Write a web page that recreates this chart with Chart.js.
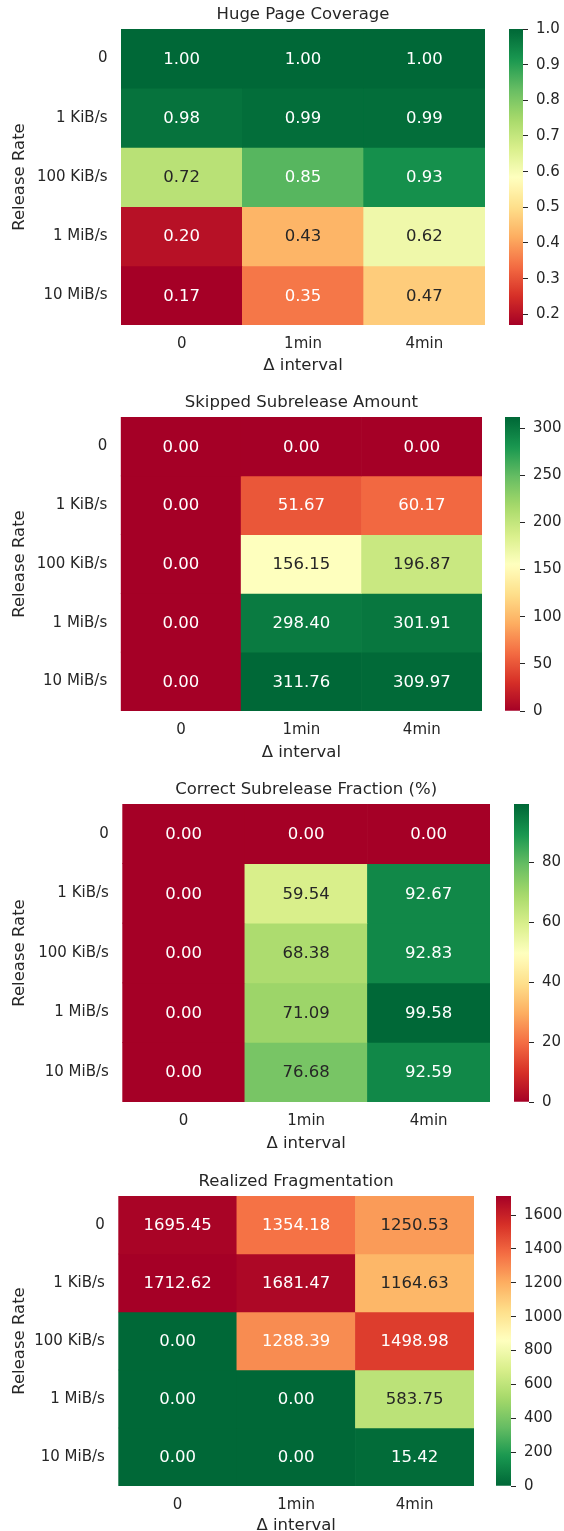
<!DOCTYPE html>
<html>
<head>
<meta charset="utf-8">
<script src="https://cdn.jsdelivr.net/npm/chart.js@4.4.1/dist/chart.umd.min.js"></script>
<style>
  html, body { margin: 0; padding: 0; background: #ffffff; }
  #page { position: relative; width: 564px; height: 1531px; overflow: hidden; background: #ffffff; }
  #page canvas { position: absolute; }
</style>
</head>
<body>
<div id="page"></div>
<script>
// Column and row categories shared by every heatmap
const intervals = ['0', '1min', '4min'];
const releaseRates = ['0', '1 KiB/s', '100 KiB/s', '1 MiB/s', '10 MiB/s'];

// One row per release rate, one column per Δ interval
const hugePageCoverage = [
  [1.00, 1.00, 1.00],
  [0.98, 0.99, 0.99],
  [0.72, 0.85, 0.93],
  [0.20, 0.43, 0.62],
  [0.17, 0.35, 0.47]
];
const skippedSubreleaseAmount = [
  [0.00, 0.00, 0.00],
  [0.00, 51.67, 60.17],
  [0.00, 156.15, 196.87],
  [0.00, 298.40, 301.91],
  [0.00, 311.76, 309.97]
];
const correctSubreleaseFraction = [
  [0.00, 0.00, 0.00],
  [0.00, 59.54, 92.67],
  [0.00, 68.38, 92.83],
  [0.00, 71.09, 99.58],
  [0.00, 76.68, 92.59]
];
const realizedFragmentation = [
  [1695.45, 1354.18, 1250.53],
  [1712.62, 1681.47, 1164.63],
  [0.00, 1288.39, 1498.98],
  [0.00, 0.00, 583.75],
  [0.00, 0.00, 15.42]
];

// Colorbar tick values
const coverageTicks = [0.2, 0.3, 0.4, 0.5, 0.6, 0.7, 0.8, 0.9, 1.0];
const skippedTicks = [0, 50, 100, 150, 200, 250, 300];
const correctTicks = [0, 20, 40, 60, 80];
const fragmentationTicks = [0, 200, 400, 600, 800, 1000, 1200, 1400, 1600];

// RdYlGn control colours (red -> yellow -> green)
const RDYLGN = [
  [165, 0, 38], [215, 48, 39], [244, 109, 67], [253, 174, 97], [254, 224, 139],
  [255, 255, 191], [217, 239, 139], [166, 217, 106], [102, 189, 99], [26, 152, 80], [0, 104, 55]
];

const FONT = 'DejaVu Sans';
const TEXT = '#262626';
const LABEL_SIZE = 16.5;
const TICK_SIZE = 15;

function cmapRGB(t, reversed) {
  t = Math.max(0, Math.min(1, t));
  if (reversed) t = 1 - t;
  // 256-entry lookup like a quantized colormap
  const idx = Math.min(255, Math.floor(t * 256));
  const s = idx / 255 * (RDYLGN.length - 1);
  const i = Math.min(RDYLGN.length - 2, Math.floor(s));
  const f = s - i;
  const a = RDYLGN[i], b = RDYLGN[i + 1];
  return [0, 1, 2].map(k => a[k] + (b[k] - a[k]) * f);
}
function rgbStr(c) { return 'rgb(' + c.map(v => Math.round(v)).join(',') + ')'; }
function luminance(c) {
  const lin = c.map(v => { v /= 255; return v <= 0.03928 ? v / 12.92 : Math.pow((v + 0.055) / 1.055, 2.4); });
  return 0.2126 * lin[0] + 0.7152 * lin[1] + 0.0722 * lin[2];
}

const page = document.getElementById('page');
function addCanvas(left, top, width, height) {
  const c = document.createElement('canvas');
  c.width = width; c.height = height;
  c.style.left = left + 'px'; c.style.top = top + 'px';
  c.style.width = width + 'px'; c.style.height = height + 'px';
  page.appendChild(c);
  return c;
}

// Writes each cell's value in its centre, light or dark depending on the cell colour
const cellLabels = {
  id: 'cellLabels',
  afterDatasetsDraw(chart, args, opts) {
    const ctx = chart.ctx;
    ctx.save();
    ctx.font = LABEL_SIZE + 'px "' + FONT + '"';
    ctx.textAlign = 'center';
    ctx.textBaseline = 'middle';
    chart.data.datasets.forEach((ds, i) => {
      chart.getDatasetMeta(i).data.forEach((bar, j) => {
        const v = ds.values[j];
        const rgb = cmapRGB((v - opts.vmin) / (opts.vmax - opts.vmin), opts.reversed);
        ctx.fillStyle = luminance(rgb) > 0.408 ? TEXT : '#ffffff';
        ctx.fillText(v.toFixed(2), bar.x, (bar.y + bar.base) / 2 + 1);
      });
    });
    ctx.restore();
  }
};

function drawPanel(p) {
  const values = p.values;
  const flat = values.flat();
  const vmin = Math.min(...flat), vmax = Math.max(...flat);

  // ---- heatmap ----
  const titleH = 29, axisH = 56;
  const canvasTop = p.top - titleH;
  const canvasH = Math.round(p.bottom - canvasTop + axisH);
  const lh = LABEL_SIZE * 1.2;
  const cv = addCanvas(0, canvasTop, Math.round(p.right), canvasH);
  const chartBottomInCanvas = canvasH - axisH;
  const scaleY = (p.bottom - p.top) / (chartBottomInCanvas - titleH);

  new Chart(cv, {
    type: 'bar',
    data: {
      labels: intervals,
      datasets: releaseRates.map((rate, r) => ({
        label: rate,
        values: values[r],
        data: values[r].map(() => [r, r + 1]),
        backgroundColor: values[r].map(v => rgbStr(cmapRGB((v - vmin) / (vmax - vmin), p.reversed))),
        borderWidth: 0,
        grouped: false,
        barPercentage: 1,
        categoryPercentage: 1
      }))
    },
    options: {
      responsive: false,
      animation: false,
      layout: { padding: { left: 0, right: Math.round(p.right) - p.right, top: 0, bottom: 0 } },
      plugins: {
        legend: { display: false },
        tooltip: { enabled: false },
        title: {
          display: true, text: p.title, fullSize: false, color: TEXT,
          font: { family: FONT, size: LABEL_SIZE, weight: 'normal' },
          padding: { top: 15 - lh / 2, bottom: 14 - lh / 2 }
        },
        cellLabels: { vmin, vmax, reversed: p.reversed }
      },
      scales: {
        x: {
          type: 'category',
          grid: { display: false, drawTicks: false },
          border: { display: false },
          ticks: { color: TEXT, padding: 10.5, font: { family: FONT, size: TICK_SIZE } },
          title: {
            display: true, text: 'Δ interval', color: TEXT,
            font: { family: FONT, size: LABEL_SIZE },
            padding: { top: 0, bottom: axisH - p.xTitle - lh / 2 }
          },
          afterFit(scale) { scale.height = axisH; }
        },
        y: {
          type: 'linear', min: 0, max: releaseRates.length, reverse: true,
          grid: { display: false, drawTicks: false },
          border: { display: false },
          afterBuildTicks(scale) { scale.ticks = releaseRates.map((_, i) => ({ value: i + 0.5 })); },
          ticks: {
            color: TEXT, padding: 13.5, font: { family: FONT, size: TICK_SIZE },
            callback: (v, i) => releaseRates[i]
          },
          title: {
            display: true, text: 'Release Rate', color: TEXT,
            font: { family: FONT, size: LABEL_SIZE },
            padding: { top: 20 - lh / 2, bottom: 0 }
          },
          afterFit(scale) { scale.width = p.left; }
        }
      }
    },
    plugins: [cellLabels]
  });

  // ---- colorbar ----
  const pad = 20, axisW = 60;
  const cbW = p.cbRight - p.cbLeft;
  const cb = addCanvas(p.cbLeft, p.top - pad, Math.round(cbW + axisW), Math.round(p.bottom - p.top + 2 * pad));
  new Chart(cb, {
    type: 'bar',
    data: {
      labels: [''],
      datasets: [{
        data: [[vmin, vmax]],
        borderWidth: 0,
        barPercentage: 1,
        categoryPercentage: 1,
        backgroundColor(ctx) {
          const chart = ctx.chart;
          const y = chart.scales.y;
          if (!chart.chartArea || !y) return 'rgba(0,0,0,0)';
          const g = chart.ctx.createLinearGradient(0, y.getPixelForValue(vmin), 0, y.getPixelForValue(vmax));
          for (let k = 0; k <= 64; k++) {
            g.addColorStop(k / 64, rgbStr(cmapRGB(k / 64, p.reversed)));
          }
          return g;
        }
      }]
    },
    options: {
      responsive: false,
      animation: false,
      layout: { padding: { left: 0, right: 0, top: pad, bottom: pad } },
      plugins: { legend: { display: false }, tooltip: { enabled: false } },
      scales: {
        x: { type: 'category', display: false },
        y: {
          type: 'linear', position: 'right', min: vmin, max: vmax,
          grid: { display: true, drawOnChartArea: false, drawTicks: true, tickLength: 5, color: TEXT, lineWidth: 1 },
          border: { display: false },
          afterBuildTicks(scale) { scale.ticks = p.ticks.map(v => ({ value: v })); },
          ticks: {
            color: TEXT, padding: 8, font: { family: FONT, size: TICK_SIZE },
            callback: v => p.tickFmt(v)
          },
          afterFit(scale) { scale.width = axisW; }
        }
      }
    }
  });
}

const panels = [
  { title: 'Huge Page Coverage', values: hugePageCoverage, ticks: coverageTicks, tickFmt: v => v.toFixed(1),
    reversed: false, left: 121, right: 485.3, top: 29.3, bottom: 325, cbLeft: 508.7, cbRight: 523, xTitle: 40.5 },
  { title: 'Skipped Subrelease Amount', values: skippedSubreleaseAmount, ticks: skippedTicks, tickFmt: v => String(v),
    reversed: false, left: 120.7, right: 482, top: 417, bottom: 711.3, cbLeft: 504.7, cbRight: 519.7, xTitle: 41.5 },
  { title: 'Correct Subrelease Fraction (%)', values: correctSubreleaseFraction, ticks: correctTicks, tickFmt: v => String(v),
    reversed: false, left: 122.3, right: 490.3, top: 804.3, bottom: 1102.7, cbLeft: 513.7, cbRight: 528.7, xTitle: 42 },
  { title: 'Realized Fragmentation', values: realizedFragmentation, ticks: fragmentationTicks, tickFmt: v => String(v),
    reversed: true, left: 118.3, right: 474, top: 1195.5, bottom: 1485, cbLeft: 496.3, cbRight: 511.3, xTitle: 40 }
];

panels.forEach(drawPanel);
</script>
</body>
</html>
